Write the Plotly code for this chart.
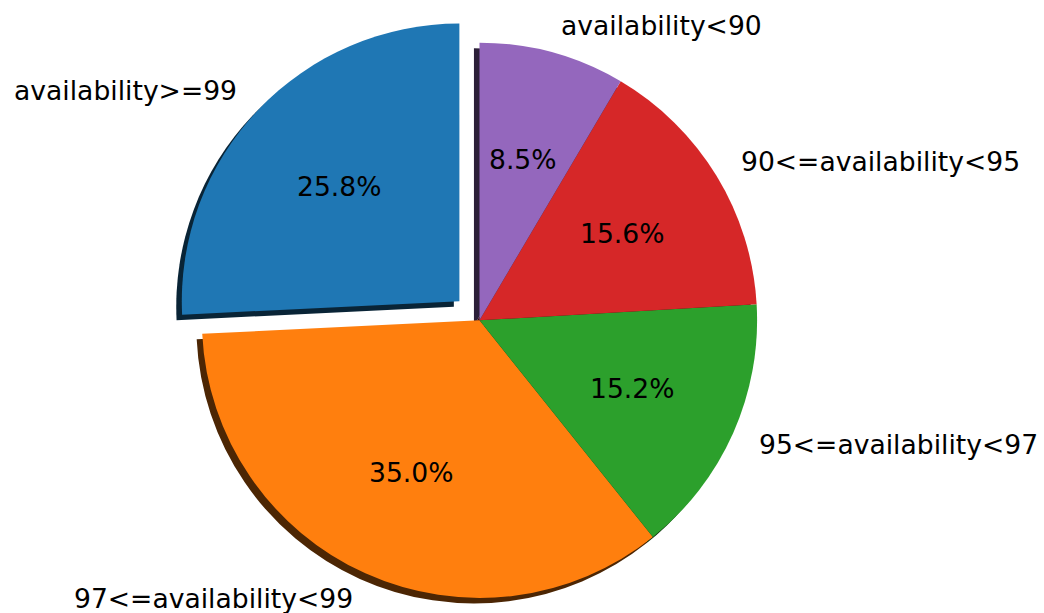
import math
import plotly.graph_objects as go

# Share of services per availability band (percent)
labels = ["availability>=99", "97<=availability<99", "95<=availability<97",
          "90<=availability<95", "availability<90"]
shares = [25.8, 35.0, 15.2, 15.6, 8.5]
colors = ["#1f77b4", "#ff7f0e", "#2ca02c", "#d62728", "#9467bd"]
explode = [0.1, 0.0, 0.0, 0.0, 0.0]

W, H = 1044, 613
CX, CY, R = 479.5, 320.3, 277.6      # pie centre and radius in pixels
SHADOW = 0.02                          # shadow offset as a fraction of R
START = 90.0                           # first slice starts at 12 o'clock
FONT = dict(family="DejaVu Sans", size=26.6, color="black")
CLEAR = "rgba(0,0,0,0)"


def shade(hex_color, k=0.3):
    h = hex_color.lstrip("#")
    r, g, b = (int(h[i:i + 2], 16) for i in (0, 2, 4))
    return f"rgb({round(r * k)},{round(g * k)},{round(b * k)})"


def domain(cx, cy):
    return dict(x=[(cx - R) / W, (cx + R) / W],
                y=[1 - (cy + R) / H, 1 - (cy - R) / H])


total = sum(shares)
mid_angles = []
acc = 0.0
for v in shares:
    a0 = START + 360 * acc / total
    acc += v
    a1 = START + 360 * acc / total
    mid_angles.append(math.radians((a0 + a1) / 2))

# centre of every slice after exploding it along its mid angle
centres = [(CX + e * R * math.cos(t), CY - e * R * math.sin(t))
           for e, t in zip(explode, mid_angles)]


def slice_trace(i, color, cx, cy):
    # slices run counterclockwise from 12 o'clock: equivalent to the
    # reversed order laid out clockwise from 12 o'clock
    cols = [color if j == i else CLEAR for j in range(len(shares))]
    return go.Pie(values=shares[::-1], labels=labels[::-1], sort=False,
                  direction="clockwise", rotation=0,
                  marker=dict(colors=cols[::-1], line=dict(width=0)),
                  textinfo="none", hoverinfo="skip", showlegend=False,
                  domain=domain(cx, cy))


fig = go.Figure()
# shadows sit underneath every wedge
for i, (cx, cy) in enumerate(centres):
    fig.add_trace(slice_trace(i, shade(colors[i]), cx - SHADOW * R, cy + SHADOW * R))
for i, (cx, cy) in enumerate(centres):
    fig.add_trace(slice_trace(i, colors[i], cx, cy))

annotations = []
for lab, v, t, (cx, cy) in zip(labels, shares, mid_angles, centres):
    # category label just outside the rim
    lx = cx + 1.1 * R * math.cos(t)
    ly = cy - 1.1 * R * math.sin(t)
    annotations.append(dict(x=lx / W, y=1 - ly / H, xref="paper", yref="paper",
                            text=lab, showarrow=False, font=FONT, borderpad=0,
                            xanchor="left" if lx > cx else "right",
                            yanchor="middle"))
    # percentage inside the wedge
    px = cx + 0.6 * R * math.cos(t)
    py = cy - 0.6 * R * math.sin(t)
    annotations.append(dict(x=px / W, y=1 - py / H, xref="paper", yref="paper",
                            text=f"{100 * v / total:.1f}%", showarrow=False,
                            font=FONT, borderpad=0,
                            xanchor="center", yanchor="middle"))

fig.update_layout(width=W, height=H, margin=dict(l=0, r=0, t=0, b=0),
                  paper_bgcolor="white", plot_bgcolor="white",
                  showlegend=False, annotations=annotations)

fig.write_html("out.html")
